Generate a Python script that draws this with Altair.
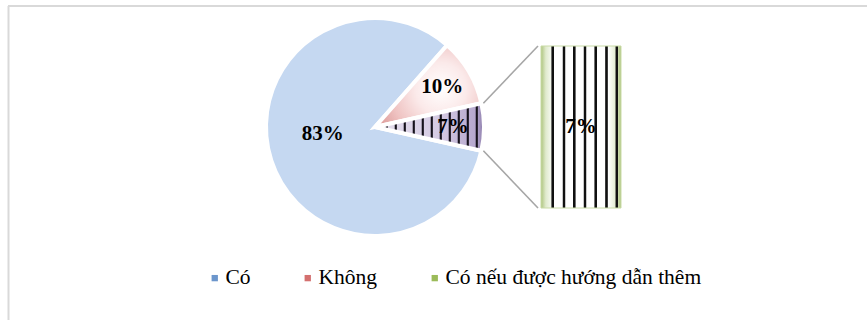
import math
import altair as alt
import pandas as pd

# ---------------- data ----------------
categories = ["Có", "Không", "Có nếu được hướng dẫn thêm"]
values = [83, 10, 7]
order = [0, 1, 2]
legend_colors = ["#6c96cc", "#d4706f", "#9bbb59"]

# ---------------- layout constants ----------------
W, H = 867, 320
PIE_X, PIE_Y, PIE_R = 375, 127, 109
BAR_X0, BAR_X1 = 541, 621
BAR_Y0, BAR_Y1 = 208, 46
FONT = "Liberation Serif"

total = sum(values)
# rotate so that the last ("other") slice is centred on the right (3 o'clock)
OFF = math.pi / 2 + math.pi * values[-1] / total
theta_scale = alt.Scale(domain=[0, total], range=[OFF, OFF + 2 * math.pi])

df = pd.DataFrame({"cat": categories, "value": values, "order": order})


# ---------------- helpers for gradient fills ----------------
def hex2rgb(h):
    h = h.lstrip("#")
    return [int(h[i:i + 2], 16) for i in (0, 2, 4)]


def rgb2hex(c):
    return "#" + "".join(f"{max(0, min(255, int(round(v)))):02x}" for v in c)


def bg_at(stops, t):
    if t <= stops[0][0]:
        return stops[0][1]
    for (o1, c1), (o2, c2) in zip(stops, stops[1:]):
        if o1 <= t <= o2:
            f = 0 if o2 == o1 else (t - o1) / (o2 - o1)
            a, b = hex2rgb(c1), hex2rgb(c2)
            return rgb2hex([a[i] + (b[i] - a[i]) * f for i in range(3)])
    return stops[-1][1]


def striped(bg, centers, w, ink):
    ev = []
    for o, c in bg:
        if not any(abs(o - cc) <= w / 2 for cc in centers):
            ev.append((o, c))
    for cc in centers:
        a, b = cc - w / 2, cc + w / 2
        ev += [(a, bg_at(bg, a)), (a + 0.25 * w, ink), (b - 0.25 * w, ink), (b, bg_at(bg, b))]
    ev.sort(key=lambda e: e[0])
    ev = [(min(1, max(0, o)), c) for o, c in ev]
    return alt.LinearGradient(
        gradient="linear",
        stops=[alt.GradientStop(offset=o, color=c) for o, c in ev],
        x1=0, y1=0, x2=1, y2=0,
    )


# purple "other" slice: lavender with vertical black stripes
slice_w = PIE_R
purple_bg = [(0, "#e6e0ee"), (0.6, "#d4cae2"), (0.93, "#b5a7cd"), (1, "#8a7aa9")]
purple_fill = striped(purple_bg, [(2.7 + 9 * k) / slice_w for k in range(1, 12)], 2.8 / slice_w, "#16121c")

# secondary bar: white with green edges and vertical black stripes
bar_w = BAR_X1 - BAR_X0
bar_bg = [(0, "#adc47e"), (0.06, "#e0eacd"), (0.16, "#ffffff"), (0.84, "#ffffff"), (0.94, "#e0eacd"), (1, "#adc47e")]
bar_fill = striped(bar_bg, [x / bar_w for x in [11.7, 23.0, 33.3, 44.0, 54.7, 65.5, 75.8]], 3.4 / bar_w, "#101010")

# pink "Không" slice: radial white -> pink
pink_fill = alt.RadialGradient(
    gradient="radial",
    stops=[
        alt.GradientStop(offset=0, color="#ffffff"),
        alt.GradientStop(offset=0.35, color="#fbeaea"),
        alt.GradientStop(offset=0.7, color="#efc3c2"),
        alt.GradientStop(offset=1, color="#dc9896"),
    ],
    x1=0.62, y1=0.52, r1=0, x2=0.62, y2=0.52, r2=0.68,
)
blue_fill = "#c5d8f1"

# ---------------- base chart with angles ----------------
base = alt.Chart(df).transform_window(
    cum="sum(value)", sort=[alt.SortField("order")], frame=[None, 0]
).transform_calculate(
    t0="datum.cum - datum.value",
    mid="datum.cum - datum.value / 2",
    half="datum.value / 2",
    label="datum.value + '%'",
)

pos = dict(x=alt.value(PIE_X), y=alt.value(PIE_Y))
theta_enc = dict(
    theta=alt.Theta("t0:Q", scale=theta_scale),
    theta2=alt.Theta2("cum:Q"),
)
arc_kw = dict(radius=PIE_R, stroke="white", strokeWidth=4)

legend_layer = base.mark_arc(**arc_kw).encode(
    color=alt.Color(
        "cat:N",
        scale=alt.Scale(domain=categories, range=legend_colors),
        sort=categories,
        legend=alt.Legend(
            title=None, orient="none", legendX=204, legendY=267, direction="horizontal",
            symbolType="square", symbolSize=40, symbolStrokeWidth=0,
            labelFont=FONT, labelFontSize=21.5, labelColor="black", labelOffset=0,
            columnPadding=46, padding=0, labelLimit=0,
        ),
    ),
    **theta_enc, **pos,
)

blue = base.transform_filter(alt.datum.cat == categories[0]).mark_arc(fill=blue_fill, **arc_kw).encode(**theta_enc, **pos)
pink = base.transform_filter(alt.datum.cat == categories[1]).mark_arc(fill=pink_fill, **arc_kw).encode(**theta_enc, **pos)
purple = base.transform_filter(alt.datum.cat == categories[2]).mark_arc(fill=purple_fill, **arc_kw).encode(**theta_enc, **pos)

txt_kw = dict(font=FONT, fontSize=21, fontWeight="bold", color="black", align="center", baseline="middle")
big_label = base.transform_filter(alt.datum.cat == categories[0]).mark_text(radius=55, dy=-10, **txt_kw).encode(
    theta=alt.Theta("mid:Q", scale=theta_scale), text="label:N", **pos)
small_labels = base.transform_filter(alt.datum.cat != categories[0]).mark_text(radius=78, **txt_kw).encode(
    theta=alt.Theta("mid:Q", scale=theta_scale), text="label:N", **pos)

# ---------------- secondary bar ----------------
x_bar = alt.X("cat:N", scale=alt.Scale(range=[BAR_X0, BAR_X1], paddingInner=0, paddingOuter=0), axis=None)
y_scale = alt.Scale(domain=[0, values[-1]], range=[BAR_Y0, BAR_Y1])
other = base.transform_filter(alt.datum.cat == categories[2])
bar = other.mark_bar(fill=bar_fill, stroke="#c9dba6", strokeWidth=1).encode(
    x=x_bar, y=alt.Y("value:Q", scale=y_scale, axis=None))
bar_label = other.mark_text(**txt_kw).encode(
    x=x_bar, y=alt.Y("half:Q", scale=y_scale, axis=None), text="label:N")

# ---------------- connector lines (pie edge -> bar corners) ----------------
a_top = OFF + 2 * math.pi * (total - values[-1]) / total
a_bot = OFF + 2 * math.pi
one = pd.DataFrame({"k": [0]})
conn = []
for ang, yb in [(a_top, BAR_Y1), (a_bot, BAR_Y0)]:
    sx = PIE_X + PIE_R * math.sin(ang)
    sy = PIE_Y - PIE_R * math.cos(ang)
    conn.append(alt.Chart(one).mark_rule(color="#a6a6a6", strokeWidth=1.6).encode(
        x=alt.value(sx + 2), y=alt.value(sy), x2=alt.value(BAR_X0 - 3), y2=alt.value(yb)))

# ---------------- outer frame ----------------
frame_v = alt.Chart(one).mark_rule(color="#d9d9d9", strokeWidth=2).encode(
    x=alt.value(8.5), y=alt.value(6), y2=alt.value(H))
frame_h = alt.Chart(one).mark_rule(color="#d9d9d9", strokeWidth=2).encode(
    x=alt.value(8), x2=alt.value(W), y=alt.value(6))

chart = alt.layer(
    frame_v, frame_h, legend_layer, blue, pink, purple, *conn, bar, big_label, small_labels, bar_label
).properties(
    width=W, height=H, padding=0, autosize=alt.AutoSizeParams(type="none"), background="white"
).configure_view(strokeWidth=0)

chart.save("out.html", embed_options={"renderer": "svg", "actions": False})
